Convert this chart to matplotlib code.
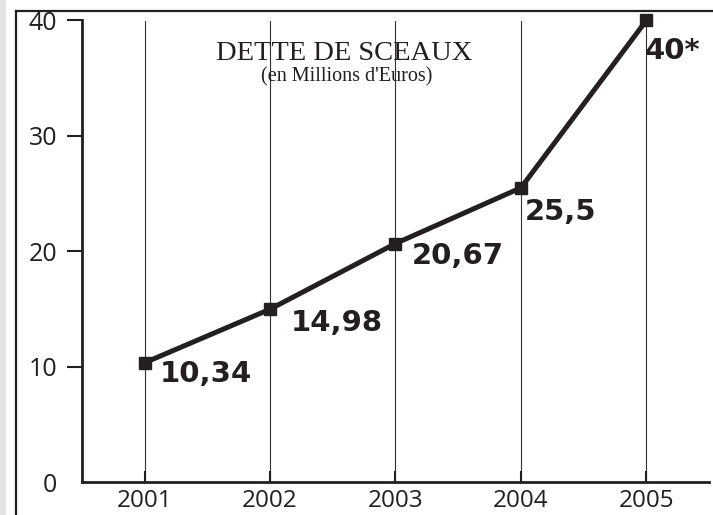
import matplotlib
matplotlib.use("Agg")
import matplotlib.pyplot as plt
from matplotlib.lines import Line2D
from matplotlib.patches import Rectangle

years = [2001, 2002, 2003, 2004, 2005]
dette = [10.34, 14.98, 20.67, 25.5, 40]
labels = ["10,34", "14,98", "20,67", "25,5", "40*"]
y_ticks = [0, 10, 20, 30, 40]

title = "DETTE DE SCEAUX"
subtitle = "(en Millions d'Euros)"

# label offsets in points (dx, dy) from each point
label_offsets = [(11, 2), (15, 0), (12, 1), (3, -7), (-1, -12)]

ink = "#231f20"
W, H = 713, 515

fig = plt.figure(figsize=(W / 100, H / 100), dpi=100)
fig.patch.set_facecolor("white")

# grey strip and the open frame of the original scan
fig.add_artist(Rectangle((0, 0), 6 / W, 1, transform=fig.transFigure,
                         facecolor="#e3e4e6", edgecolor="none"))
fig.add_artist(Line2D([15.5 / W, 15.5 / W], [0, 1 - 11 / H],
                      transform=fig.transFigure, color=ink, lw=1.6))
fig.add_artist(Line2D([15.5 / W, 1], [1 - 11 / H, 1 - 11 / H],
                      transform=fig.transFigure, color=ink, lw=1.6))

ax = fig.add_axes([82 / W, 1 - 482 / H, (709 - 82) / W, (482 - 20.5) / H])
ax.set_xlim(2000.5, 2005.5)
ax.set_ylim(0, 40)

ax.plot(years, dette, color=ink, lw=3.6, marker="s", markersize=8,
        clip_on=False, zorder=4, solid_joinstyle="miter")

for x, y, txt, (dx, dy) in zip(years, dette, labels, label_offsets):
    ax.annotate(txt, (x, y), xytext=(dx, dy), textcoords="offset points",
                ha="left", va="top", fontsize=21, fontweight="bold",
                family="DejaVu Sans", color=ink, zorder=5)

ax.set_xticks(years)
ax.set_yticks(y_ticks)
ax.grid(axis="x", color="#333333", lw=0.8)
ax.set_axisbelow(True)

for s in ["top", "right"]:
    ax.spines[s].set_visible(False)
for s in ["left", "bottom"]:
    ax.spines[s].set_color(ink)
    ax.spines[s].set_linewidth(2)

ax.tick_params(axis="y", direction="out", length=11, width=1.5, pad=7,
               colors=ink, labelsize=18)
ax.tick_params(axis="x", direction="in", length=8, width=1.5, pad=5,
               colors=ink, labelsize=17.5)
ax.yaxis.get_major_ticks()[0].tick1line.set_visible(False)
for lab in ax.get_xticklabels() + ax.get_yticklabels():
    lab.set_family("Open Sans")

fig.text(344 / W, 1 - 60 / H, title, ha="center", va="baseline",
         family="Liberation Serif", fontsize=20.5, color=ink)
fig.text(347 / W, 1 - 81 / H, subtitle, ha="center", va="baseline",
         family="Liberation Serif", fontsize=14.5, color=ink)

fig.savefig("out.png", dpi=100)
